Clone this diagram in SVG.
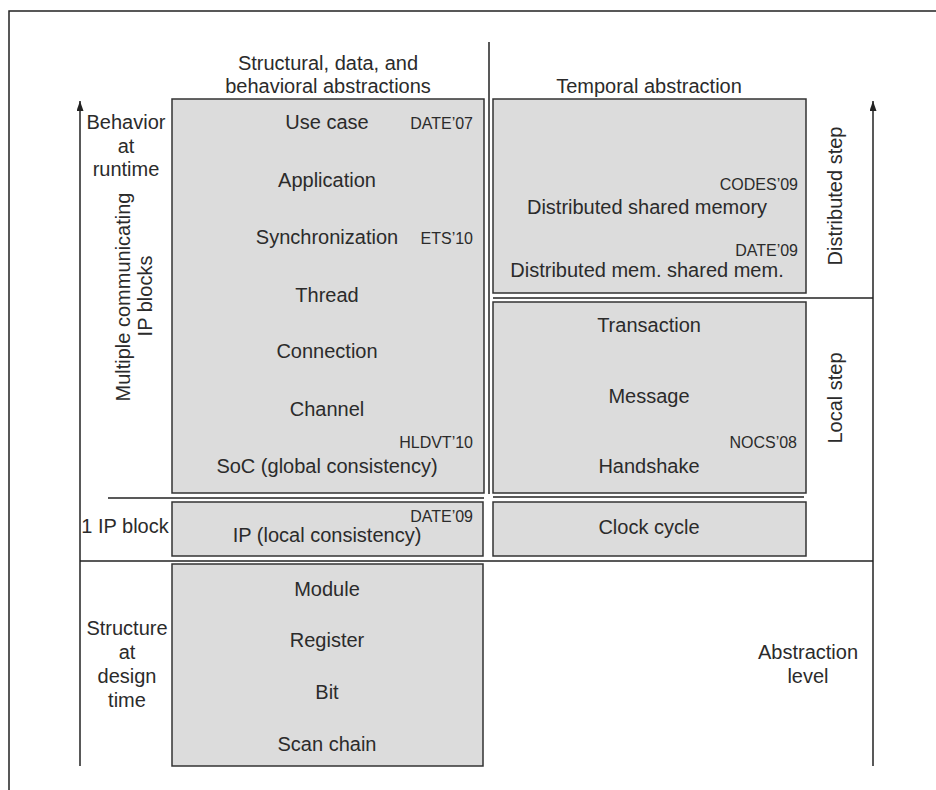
<svg xmlns="http://www.w3.org/2000/svg" width="936" height="790" viewBox="0 0 936 790">
<defs>
<marker id="arrow" markerUnits="userSpaceOnUse" markerWidth="11" markerHeight="8" refX="10" refY="3.5" orient="auto">
<path d="M0,0 L10,3.5 L0,7 z" fill="#222"/>
</marker>
<style>
.box{fill:#dcdcdc;stroke:#333;stroke-width:1.5}
.ln{stroke:#222;stroke-width:1.5;fill:none}
text{font-family:"Liberation Sans",Arial,sans-serif;fill:#2b2b2b}
.m{font-size:20px;text-anchor:middle}
.r{font-size:16px;text-anchor:end}
</style>
</defs>
<rect width="936" height="790" fill="#fff"/>
<g id="connectors">
<path class="ln" d="M9,790 V11 H936"/>
<line class="ln" x1="489" y1="42" x2="489" y2="494"/>
<line class="ln" x1="80" y1="766" x2="80" y2="101" marker-end="url(#arrow)"/>
<line class="ln" x1="873" y1="766" x2="873" y2="101" marker-end="url(#arrow)"/>
<line class="ln" x1="493" y1="298" x2="873" y2="298"/>
<line class="ln" x1="108" y1="498" x2="484" y2="498"/>
<line class="ln" x1="493" y1="497" x2="804" y2="497"/>
<line class="ln" x1="80" y1="561" x2="873" y2="561"/>
</g>
<g id="headers">
<text class="m" x="328" y="70">Structural, data, and</text>
<text class="m" x="328" y="93">behavioral abstractions</text>
<text class="m" x="649" y="93">Temporal abstraction</text>
</g>
<g id="left-labels">
<text class="m" x="126" y="129">Behavior</text>
<text class="m" x="126" y="153">at</text>
<text class="m" x="126" y="176">runtime</text>
<text class="m" transform="translate(130,297) rotate(-90)">Multiple communicating</text>
<text class="m" transform="translate(152,296) rotate(-90)">IP blocks</text>
<text class="m" x="125" y="533">1 IP block</text>
<text class="m" x="127" y="635">Structure</text>
<text class="m" x="127" y="659">at</text>
<text class="m" x="127" y="683">design</text>
<text class="m" x="127" y="707">time</text>
</g>
<g id="right-labels">
<text class="m" transform="translate(842,196) rotate(-90)">Distributed step</text>
<text class="m" transform="translate(842,398) rotate(-90)">Local step</text>
<text class="m" x="808" y="659">Abstraction</text>
<text class="m" x="808" y="683">level</text>
</g>
<g id="behavior-box">
<rect class="box" x="172" y="99" width="312" height="394"/>
<text class="m" x="327" y="129">Use case</text>
<text class="r" x="473" y="129">DATE’07</text>
<text class="m" x="327" y="187">Application</text>
<text class="m" x="327" y="244">Synchronization</text>
<text class="r" x="473" y="244">ETS’10</text>
<text class="m" x="327" y="302">Thread</text>
<text class="m" x="327" y="358">Connection</text>
<text class="m" x="327" y="416">Channel</text>
<text class="r" x="473" y="448">HLDVT’10</text>
<text class="m" x="327" y="473">SoC (global consistency)</text>
</g>
<g id="distributed-box">
<rect class="box" x="493" y="99" width="313" height="194"/>
<text class="r" x="798" y="190">CODES’09</text>
<text class="m" x="647" y="214">Distributed shared memory</text>
<text class="r" x="798" y="256">DATE’09</text>
<text class="m" x="647" y="277">Distributed mem. shared mem.</text>
</g>
<g id="local-box">
<rect class="box" x="493" y="302" width="313" height="191"/>
<text class="m" x="649" y="332">Transaction</text>
<text class="m" x="649" y="403">Message</text>
<text class="r" x="797" y="448">NOCS’08</text>
<text class="m" x="649" y="473">Handshake</text>
</g>
<g id="ip-box">
<rect class="box" x="172" y="502" width="311" height="54"/>
<text class="r" x="473" y="522">DATE’09</text>
<text class="m" x="327" y="542">IP (local consistency)</text>
</g>
<g id="clock-box">
<rect class="box" x="493" y="502" width="313" height="54"/>
<text class="m" x="649" y="534">Clock cycle</text>
</g>
<g id="structure-box">
<rect class="box" x="172" y="564" width="311" height="202"/>
<text class="m" x="327" y="596">Module</text>
<text class="m" x="327" y="647">Register</text>
<text class="m" x="327" y="699">Bit</text>
<text class="m" x="327" y="751">Scan chain</text>
</g>
</svg>
